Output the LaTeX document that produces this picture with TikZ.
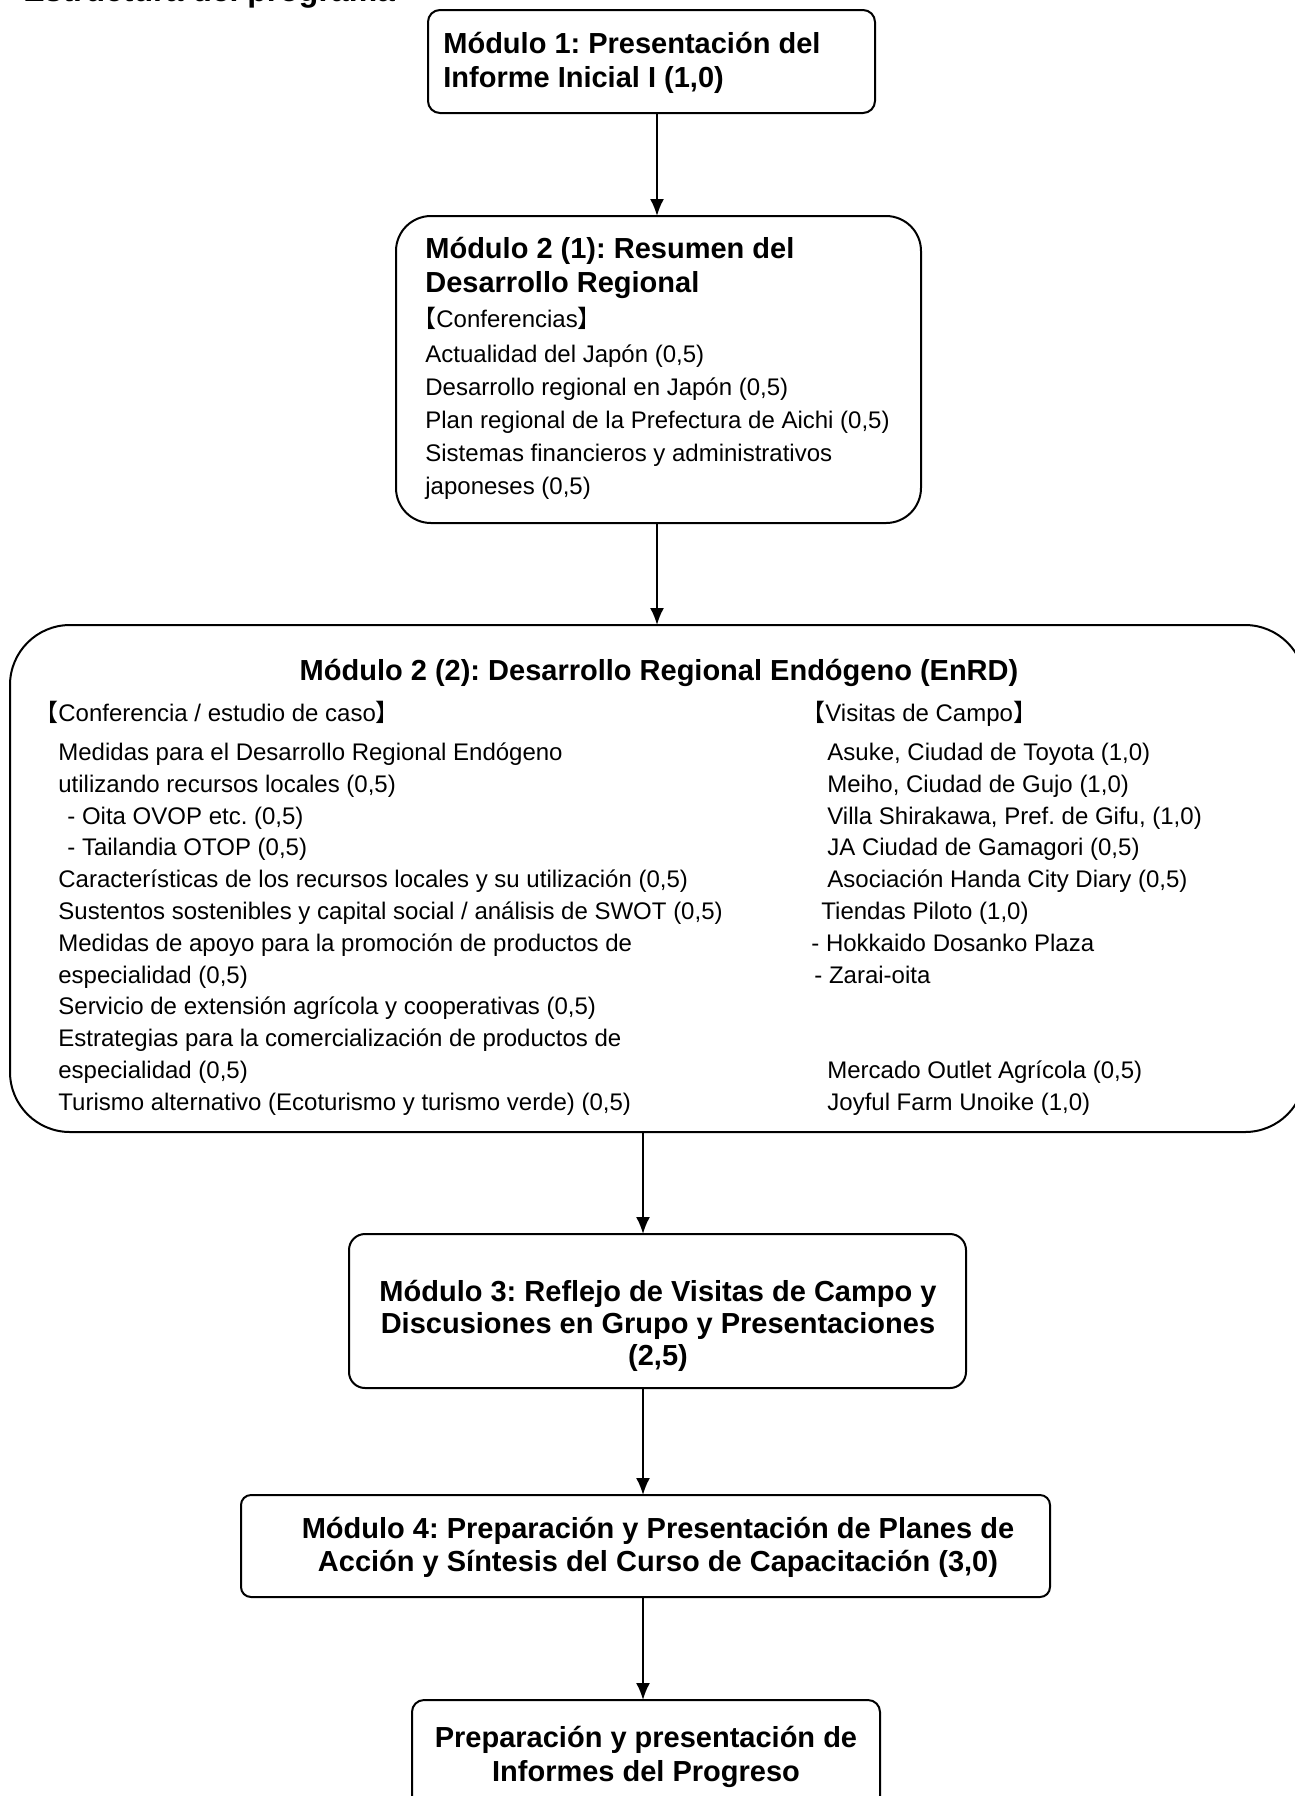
\documentclass[tikz,border=0pt]{standalone}
\usepackage{fontspec}
\setmainfont{Liberation Sans}
\newfontfamily\cjk{Noto Sans CJK JP}
\usetikzlibrary{arrows.meta,fit}
\frenchspacing
\begin{document}
\begin{tikzpicture}[x=0.5pt,y=-0.5pt,
  box/.style={draw, line width=1pt, inner sep=0pt, outer sep=0pt, rectangle},
  bt/.style={inner sep=0pt, anchor=base west, font=\bfseries\fontsize{14.5}{17}\selectfont},
  btc/.style={bt, anchor=base},
  rt/.style={inner sep=0pt, anchor=base west, font=\fontsize{12}{14}\selectfont},
  ttl/.style={inner sep=0pt, anchor=base west, font=\bfseries\fontsize{16}{19}\selectfont},
  arr/.style={line width=1pt, -{Latex[length=8.5pt,width=7pt]}}]
\useasboundingbox (0,0) rectangle (1295,1796);
\clip (0,0) rectangle (1295,1796);

% partially visible page title
\node[ttl] (title) at (23,1) {Estructura del programa};

% boxes
\node[box, rounded corners=6pt, fit={(428,10) (875,113)}] (m1) {};
\node[box, rounded corners=17.5pt, fit={(396,216) (921,523)}] (m21) {};
\node[box, rounded corners=30pt, fit={(10,625) (1305,1132)}] (m22) {};
\node[box, rounded corners=8pt, fit={(349,1234) (966,1388)}] (m3) {};
\node[box, rounded corners=5pt, fit={(241,1495) (1050,1597)}] (m4) {};
\node[box, rounded corners=6pt, fit={(412,1700) (880,1808)}] (m5) {};

% box 1
\node[bt] (t1a) at (443,53) {Módulo 1: Presentación del};
\node[bt] (t1b) at (443,87) {Informe Inicial I (1,0)};

% box 2 (1)
\node[bt] (t2a) at (425,258) {Módulo 2 (1): Resumen del};
\node[bt] (t2b) at (425,292) {Desarrollo Regional};
\node[rt] (t2c) at (412,327) {{\cjk 【}Conferencias{\cjk 】}};
\node[rt] (t2d) at (425,362) {Actualidad del Japón (0,5)};
\node[rt] (t2e) at (425,395) {Desarrollo regional en Japón (0,5)};
\node[rt] (t2f) at (425,428) {Plan regional de la Prefectura de Aichi (0,5)};
\node[rt] (t2g) at (425,461) {Sistemas financieros y administrativos};
\node[rt] (t2h) at (425,494) {japoneses (0,5)};

% box 2 (2)
\node[btc] (t3) at (659,680) {Módulo 2 (2): Desarrollo Regional Endógeno (EnRD)};
\node[rt] (lh) at (34,721) {{\cjk 【}Conferencia / estudio de caso{\cjk 】}};
\node[rt] (l0) at (58,760) {Medidas para el Desarrollo Regional Endógeno};
\node[rt] (l1) at (58,792) {utilizando recursos locales (0,5)};
\node[rt] (l2) at (67,824) {- Oita OVOP etc. (0,5)};
\node[rt] (l3) at (67,855) {- Tailandia OTOP (0,5)};
\node[rt] (l4) at (58,887) {Características de los recursos locales y su utilización (0,5)};
\node[rt] (l5) at (58,919) {Sustentos sostenibles y capital social / análisis de SWOT (0,5)};
\node[rt] (l6) at (58,951) {Medidas de apoyo para la promoción de productos de};
\node[rt] (l7) at (58,983) {especialidad (0,5)};
\node[rt] (l8) at (58,1014) {Servicio de extensión agrícola y cooperativas (0,5)};
\node[rt] (l9) at (58,1046) {Estrategias para la comercialización de productos de};
\node[rt] (l10) at (58,1078) {especialidad (0,5)};
\node[rt] (l11) at (58,1110) {Turismo alternativo (Ecoturismo y turismo verde) (0,5)};

\node[rt] (rh) at (801,721) {{\cjk 【}Visitas de Campo{\cjk 】}};
\node[rt] (r0) at (827,760) {Asuke, Ciudad de Toyota (1,0)};
\node[rt] (r1) at (827,792) {Meiho, Ciudad de Gujo (1,0)};
\node[rt] (r2) at (827,824) {Villa Shirakawa, Pref. de Gifu, (1,0)};
\node[rt] (r3) at (827,855) {JA Ciudad de Gamagori (0,5)};
\node[rt] (r4) at (827,887) {Asociación Handa City Diary (0,5)};
\node[rt] (r5) at (821,919) {Tiendas Piloto (1,0)};
\node[rt] (r6) at (811,951) {- Hokkaido Dosanko Plaza};
\node[rt] (r7) at (814,983) {- Zarai-oita};
\node[rt] (r10) at (827,1078) {Mercado Outlet Agrícola (0,5)};
\node[rt] (r11) at (827,1110) {Joyful Farm Unoike (1,0)};

% box 3
\node[btc] (t4a) at (658,1301) {Módulo 3: Reflejo de Visitas de Campo y};
\node[btc] (t4b) at (658,1333) {Discusiones en Grupo y Presentaciones};
\node[btc] (t4c) at (658,1365) {(2,5)};

% box 4
\node[btc] (t5a) at (658,1538) {Módulo 4: Preparación y Presentación de Planes de};
\node[btc] (t5b) at (658,1571) {Acción y Síntesis del Curso de Capacitación (3,0)};

% box 5
\node[btc] (t6a) at (646,1747) {Preparación y presentación de};
\node[btc] (t6b) at (646,1781) {Informes del Progreso};

% connectors
\coordinate (ax1) at (657,0);
\coordinate (ax2) at (643,0);
\draw[arr] (m1.south -| ax1) -- (m21.north -| ax1);
\draw[arr] (m21.south -| ax1) -- (m22.north -| ax1);
\draw[arr] (m22.south -| ax2) -- (m3.north -| ax2);
\draw[arr] (m3.south -| ax2) -- (m4.north -| ax2);
\draw[arr] (m4.south -| ax2) -- (m5.north -| ax2);
\end{tikzpicture}
\end{document}
